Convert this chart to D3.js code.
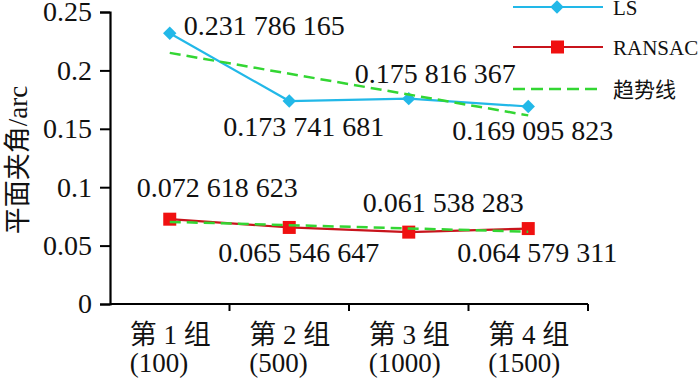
<!DOCTYPE html>
<html>
<head>
<meta charset="utf-8">
<script src="https://cdn.jsdelivr.net/npm/d3@7"></script>
<style>
  html, body { margin: 0; padding: 0; background: #fff; }
  svg { display: block; }
  text { font-family: "Liberation Serif", "Times New Roman", "Noto Sans CJK SC", serif; fill: #111; }
</style>
</head>
<body>
<div id="chart"></div>
<script>
// ── data ────────────────────────────────────────────────────
const groups = ['第 1 组', '第 2 组', '第 3 组', '第 4 组'];
const groupSizes = ['(100)', '(500)', '(1000)', '(1500)'];
const lsValues = [0.231786165, 0.173741681, 0.175816367, 0.169095823];
const ransacValues = [0.072618623, 0.065546647, 0.061538283, 0.064579311];
// trend line end points (first and last group)
const lsTrend = [0.2150, 0.1615];
const ransacTrend = [0.0703, 0.0619];
const yTicks = [0, 0.05, 0.1, 0.15, 0.2, 0.25];

// label placement (pixel offsets from the point: start x, baseline)
const lsLabelOffset = [[14, 2], [-66, 35], [-54, -16], [-76, 34]];
const ransacLabelOffset = [[-33, -22], [-71, 35], [-46, -20], [-71, 33]];

const W = 700, H = 380;
const margin = { left: 110, right: 112, top: 12, bottom: 76 };

const LS_COLOR = '#22b8e8';
const RANSAC_LINE = '#c8141c';
const RANSAC_MARK = '#f01010';
const TREND_COLOR = '#33d633';

const svg = d3.select('#chart').append('svg')
  .attr('width', W).attr('height', H);

const x = d3.scaleBand().domain(groups).range([margin.left, W - margin.right]);
const y = d3.scaleLinear().domain([0, 0.25]).range([H - margin.bottom, margin.top]);
const cx = g => x(g) + x.bandwidth() / 2;

// ── axes ────────────────────────────────────────────────────
const yAxis = svg.append('g')
  .attr('transform', `translate(${margin.left},0)`)
  .call(d3.axisLeft(y).tickValues(yTicks).tickSize(10).tickPadding(8)
    .tickFormat(d => d === 0 ? '0' : String(+d.toFixed(2))));
yAxis.select('.domain').attr('stroke', '#000').attr('stroke-width', 2.2);
yAxis.selectAll('.tick line').attr('stroke', '#000').attr('stroke-width', 2);
yAxis.selectAll('.tick text')
  .attr('font-size', 28).attr('font-family', '"Liberation Serif", serif').attr('fill', '#111');

const xAxisG = svg.append('g').attr('transform', `translate(0,${y(0)})`);
xAxisG.append('line')
  .attr('x1', margin.left).attr('x2', W - margin.right)
  .attr('stroke', '#000').attr('stroke-width', 2.2);
xAxisG.selectAll('line.xtick').data(groups)
  .join('line')
  .attr('class', 'xtick')
  .attr('x1', d => x(d) + x.bandwidth()).attr('x2', d => x(d) + x.bandwidth())
  .attr('y1', 0).attr('y2', 7)
  .attr('stroke', '#000').attr('stroke-width', 2);

const catLabels = svg.append('g').selectAll('text.cat').data(groups)
  .join('text')
  .attr('class', 'cat')
  .attr('font-size', 27)
  .attr('x', d => cx(d) - 40);
catLabels.append('tspan').attr('x', d => cx(d) - 40).attr('y', 344).text(d => d);
catLabels.append('tspan').attr('x', d => cx(d) - 40).attr('y', 372).text((d, i) => groupSizes[i]);

// y title
svg.append('text')
  .attr('transform', `translate(27,${160}) rotate(-90)`)
  .attr('text-anchor', 'middle')
  .attr('font-size', 27)
  .text('平面夹角/arc');

// ── series ──────────────────────────────────────────────────
const line = d3.line().x(d => cx(d.g)).y(d => y(d.v));
const lsData = groups.map((g, i) => ({ g, v: lsValues[i] }));
const ransacData = groups.map((g, i) => ({ g, v: ransacValues[i] }));

svg.append('path').datum(lsData)
  .attr('d', line).attr('fill', 'none')
  .attr('stroke', LS_COLOR).attr('stroke-width', 2.2);
svg.append('path').datum(ransacData)
  .attr('d', line).attr('fill', 'none')
  .attr('stroke', RANSAC_LINE).attr('stroke-width', 2.2);

const diamond = d3.symbol().type(d3.symbolSquare).size(90);
svg.selectAll('path.ls-mark').data(lsData)
  .join('path')
  .attr('class', 'ls-mark')
  .attr('d', diamond)
  .attr('transform', d => `translate(${cx(d.g)},${y(d.v)}) rotate(45)`)
  .attr('fill', LS_COLOR);

svg.selectAll('rect.ransac-mark').data(ransacData)
  .join('rect')
  .attr('class', 'ransac-mark')
  .attr('x', d => cx(d.g) - 6.5).attr('y', d => y(d.v) - 6.5)
  .attr('width', 13).attr('height', 13)
  .attr('fill', RANSAC_MARK);

// trend lines on top
const first = groups[0], last = groups[groups.length - 1];
[lsTrend, ransacTrend].forEach(t => {
  svg.append('line')
    .attr('x1', cx(first)).attr('y1', y(t[0]))
    .attr('x2', cx(last)).attr('y2', y(t[1]))
    .attr('stroke', TREND_COLOR).attr('stroke-width', 2.5)
    .attr('stroke-dasharray', '11,6');
});

// ── value labels ────────────────────────────────────────────
const fmt = v => {
  const s = v.toFixed(9);
  const dec = s.split('.')[1];
  return '0.' + dec.slice(0, 3) + ' ' + dec.slice(3, 6) + ' ' + dec.slice(6, 9);
};
const labelData = [
  ...lsData.map((d, i) => ({ ...d, off: lsLabelOffset[i] })),
  ...ransacData.map((d, i) => ({ ...d, off: ransacLabelOffset[i] }))
];
svg.selectAll('text.val').data(labelData)
  .join('text')
  .attr('class', 'val')
  .attr('font-size', 28)
  .attr('x', d => cx(d.g) + d.off[0])
  .attr('y', d => y(d.v) + d.off[1])
  .text(d => fmt(d.v));

// ── legend ──────────────────────────────────────────────────
const legend = svg.append('g').attr('transform', 'translate(513,0)');
const items = [
  { label: 'LS', y: 7, type: 'ls' },
  { label: 'RANSAC', y: 47, type: 'ransac' },
  { label: '趋势线', y: 89, type: 'trend' }
];
items.forEach(it => {
  const gI = legend.append('g').attr('transform', `translate(0,${it.y})`);
  if (it.type === 'ls') {
    gI.append('line').attr('x1', 0).attr('x2', 90).attr('stroke', LS_COLOR).attr('stroke-width', 2.2);
    gI.append('path').attr('d', diamond).attr('transform', 'translate(44,0) rotate(45)').attr('fill', LS_COLOR);
  } else if (it.type === 'ransac') {
    gI.append('line').attr('x1', 0).attr('x2', 90).attr('stroke', RANSAC_LINE).attr('stroke-width', 2.2);
    gI.append('rect').attr('x', 38).attr('y', -6.5).attr('width', 13).attr('height', 13).attr('fill', RANSAC_MARK);
  } else {
    gI.append('line').attr('x1', 0).attr('x2', 88).attr('stroke', TREND_COLOR)
      .attr('stroke-width', 2.5).attr('stroke-dasharray', '12,6');
  }
  gI.append('text').attr('x', 100).attr('y', 8).attr('font-size', 21).text(it.label);
});
</script>
</body>
</html>
